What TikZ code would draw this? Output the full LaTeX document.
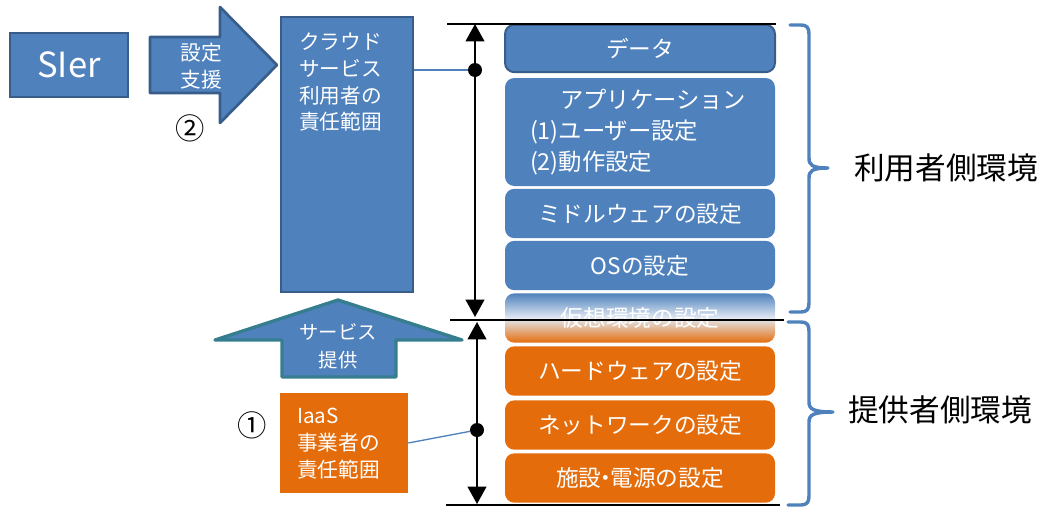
\documentclass[tikz,border=0pt]{standalone}
\usepackage{fontspec}
\setmainfont{Noto Sans CJK JP}
\usetikzlibrary{arrows.meta}
\definecolor{blu}{HTML}{4F81BD}
\definecolor{dblu}{HTML}{385D8A}
\definecolor{org}{HTML}{E46C0A}
\definecolor{tealb}{HTML}{357D8F}
\definecolor{lite}{HTML}{E3EAF3}
\begin{document}
\begin{tikzpicture}[x=0.75pt,y=-0.75pt,
  stk/.style={rounded corners=7pt, minimum width=202.5pt, minimum height=37pt, inner sep=0pt, text=white, font=\fontsize{17}{20}\selectfont},
  bstk/.style={stk, fill=blu},
  ostk/.style={stk, fill=org},
  wtxt/.style={text=white, inner sep=0pt, font=\fontsize{15.5}{20}\selectfont},
  dimline/.style={line width=1.4pt, {Triangle[width=14pt,length=13pt]}-{Triangle[width=14pt,length=13pt]}},
  hline/.style={line width=2.2pt},
  dot/.style={circle, fill=black, minimum size=10.5pt, inner sep=0pt},
  conn/.style={blu, line width=1pt},
  brace/.style={draw=blu, line width=2.6pt, line join=round, line cap=round},
  big/.style={font=\fontsize{23}{28}\selectfont},
  circ/.style={font=\fontsize{22}{24}\selectfont, inner sep=0pt}
]
\useasboundingbox (0,0) rectangle (1050,507);

% SIer
\node[draw=dblu, line width=2pt, fill=blu, minimum width=88.5pt, minimum height=48pt, text=white, font=\fontsize{26}{30}\selectfont] (sier) at (69,65) {SIer};

% right arrow
\draw[fill=blu, draw=dblu, line width=2pt, line join=round] (150,37) -- (220,37) -- (220,7) -- (277,65) -- (220,123) -- (220,93) -- (150,93) -- cycle;
\node[wtxt, align=center] (shien) at (201,66) {設定\\支援};
\node[circ] (n2) at (190,128) {②};

% user responsibility box
\node[draw=dblu, line width=1.5pt, fill=blu, minimum width=99pt, minimum height=206.25pt, inner sep=0pt] (user) at (347,154.5) {};
\node[wtxt, anchor=north west, align=left] (usertxt) at (299,33) {クラウド\\サービス\\利用者の\\責任範囲};

% up arrow
\draw[fill=blu, draw=tealb, line width=2.5pt, line join=round] (338,300) -- (462,340) -- (396,340) -- (396,377) -- (282,377) -- (282,340) -- (215,340) -- cycle;
\node[wtxt, align=center, font=\fontsize{14.5}{21}\selectfont] (teikyo) at (338,346) {サービス\\提供};

% IaaS box
\node[fill=org, minimum width=96pt, minimum height=75pt, inner sep=0pt] (iaas) at (344,443) {};
\node[wtxt, anchor=north west, align=left] (iaastxt) at (297,408) {IaaS\\事業者の\\責任範囲};
\node[circ] (n1) at (252,425) {①};

% stack
\node[bstk, draw=dblu, line width=1.5pt, minimum height=35.5pt] (data) at (640,48.5) {データ};
\node[bstk, minimum height=81pt, text width=165pt, align=left, font=\fontsize{17.5}{23.5}\selectfont] (app) at (640,132) {\hspace*{22.5pt}アプリケーション\\(1)ユーザー設定\\(2)動作設定};
\node[bstk] (mid) at (640,213.5) {ミドルウェアの設定};
\node[bstk] (os) at (640,265.5) {OSの設定};
\node[stk, top color=blu, bottom color=org, middle color=lite] (virt) at (640,318) {仮想環境の設定};
\node[ostk] (hw) at (640,371) {ハードウェアの設定};
\node[ostk] (net) at (640,425) {ネットワークの設定};
\node[ostk] (fac) at (640,478) {施設\kern-0.3em・\kern-0.3em電源の設定};

% dimension lines
\coordinate (h1a) at (447,24); \coordinate (h1b) at (776,24);
\coordinate (h2a) at (450,320); \coordinate (h2b) at (784,320);
\coordinate (h3a) at (446,505); \coordinate (h3b) at (780,505);
\coordinate (t1) at (475,24); \coordinate (t2) at (475,317);
\coordinate (b1) at (477,322); \coordinate (b2) at (477,504);
\draw[dimline] (t1) -- (t2);
\draw[dimline] (b1) -- (b2);
\draw[hline] (h1a) -- (h1b);
\draw[hline] (h2a) -- (h2b);
\draw[hline] (h3a) -- (h3b);
\node[dot] (dot1) at (475,70) {};
\node[dot] (dot2) at (477,430) {};
\draw[conn] (user.east |- dot1) -- (dot1);
\draw[conn] (iaas.east) -- (dot2);

% braces
\draw[brace] (790,25) -- (801,25) .. controls (807,25) and (809,28) .. (809,34) -- (809,158) .. controls (809,165) and (812,168) .. (828,168) .. controls (812,168) and (809,171) .. (809,178) -- (809,303) .. controls (809,309) and (807,312) .. (801,312) -- (790,312);
\draw[brace] (788,322) -- (801,322) .. controls (807,322) and (809,325) .. (809,331) -- (809,402) .. controls (809,409) and (813,412) .. (833,412) .. controls (813,412) and (809,415) .. (809,422) -- (809,496) .. controls (809,502) and (807,505) .. (801,505) -- (788,505);

\node[big] (uenv) at (946,168) {利用者側環境};
\node[big] (penv) at (940,410) {提供者側環境};
\end{tikzpicture}
\end{document}
